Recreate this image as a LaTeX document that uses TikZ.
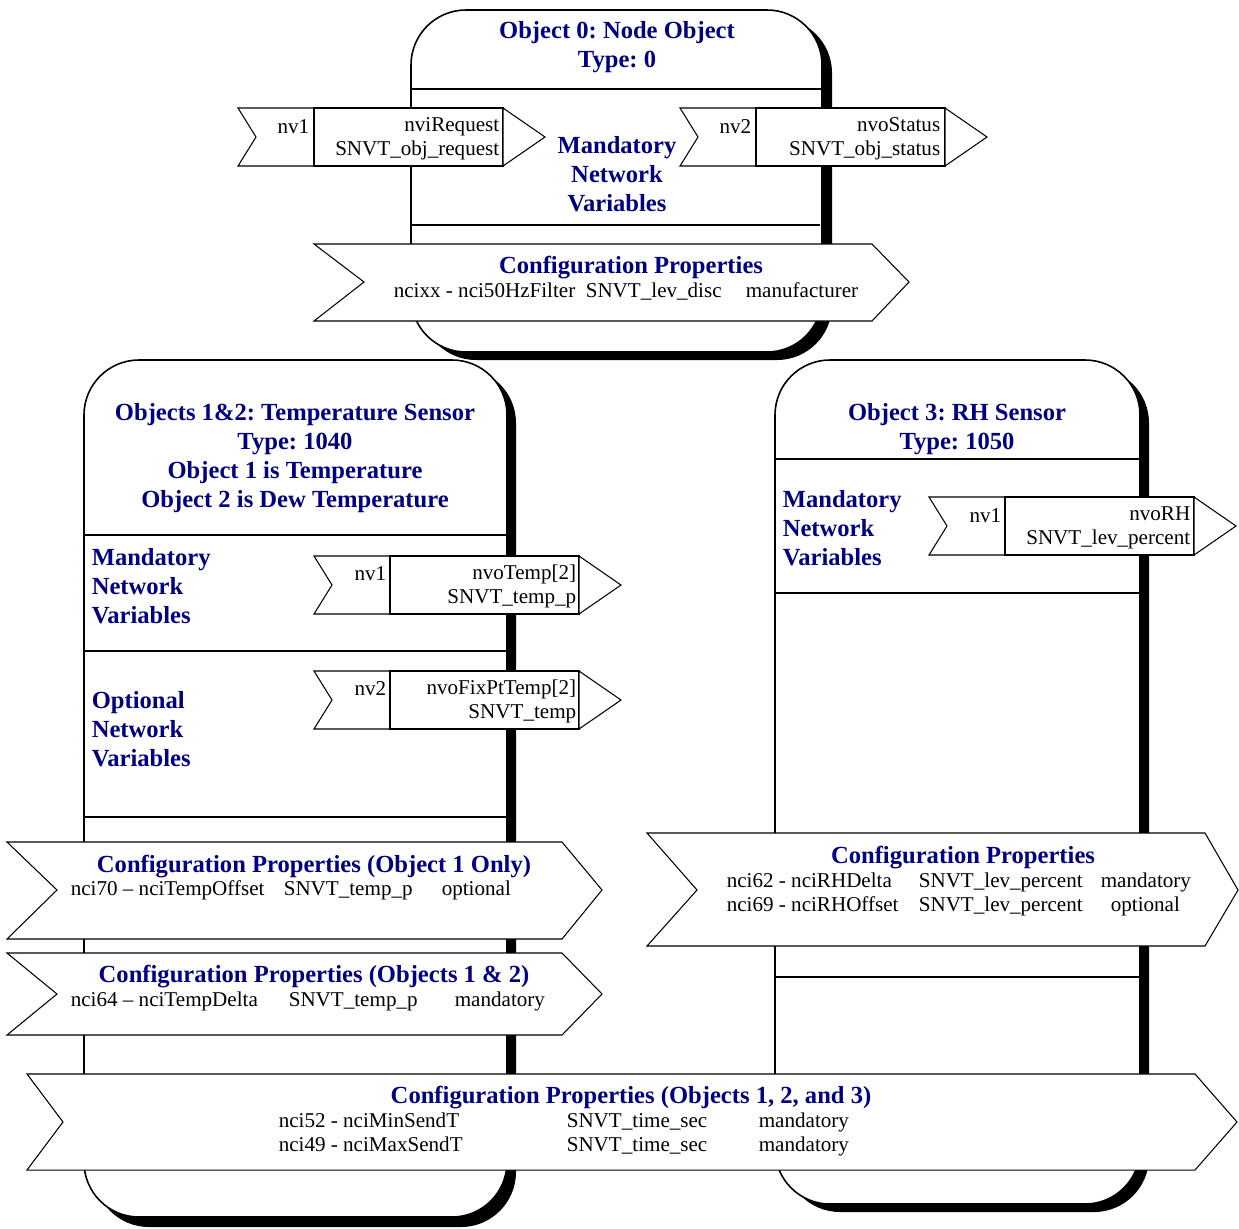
\documentclass[tikz,border=0pt]{standalone}
\usepackage{fontspec}
\setmainfont{Liberation Serif}
\usetikzlibrary{positioning}
\definecolor{navyblue}{RGB}{0,0,128}
\frenchspacing

\begin{document}
\begin{tikzpicture}
[x=0.02cm, y=-0.02cm, line width=0.9pt,
objshadow/.style={fill=black, rounded corners=1.1cm},
objbox/.style={draw, fill=white, rounded corners=1.1cm},
nvshape/.style={draw, fill=white, line width=0.6pt},
cpshape/.style={draw, fill=white, line width=0.6pt},
head/.style={font=\fontsize{14}{16.4}\selectfont\bfseries, text=navyblue, align=center, inner sep=0pt, yshift=-0.06cm},
headl/.style={head, align=left, anchor=west},
txt/.style={font=\fontsize{12}{13.7}\selectfont, inner sep=0pt, anchor=mid west, yshift=-0.05cm},
nvname/.style={font=\fontsize{12}{13.7}\selectfont, inner sep=0pt, align=right, anchor=east, yshift=-0.05cm}]

\useasboundingbox (0,0) rectangle (1239,1228);

% object boxes with shadow
\fill[objshadow] (421,18) rectangle (832,360);
\fill[objshadow] (94,368) rectangle (516,1227);
\fill[objshadow] (785,368) rectangle (1149,1212);
\draw[objbox] (411,10) rectangle (822,352);
\draw[objbox] (84,360) rectangle (507,1217);
\draw[objbox] (775,360) rectangle (1140,1204);

\draw (411,89) -- (822,89);
\draw (411,225) -- (820,225);
\draw (84,535) -- (507,535);
\draw (84,651) -- (507,651);
\draw (84,817) -- (507,817);
\draw (775,459) -- (1140,459);
\draw (775,593) -- (1140,593);
\draw (775,977) -- (1140,977);

\node[head] (head0) at (617,44) {Object 0: Node Object\\Type: 0};
\node[head] (mnv0) at (617,171) {Mandatory\\Network\\Variables};
\node[head] (head12) at (295,455) {Objects 1\&2: Temperature Sensor\\Type: 1040\\Object 1 is Temperature\\Object 2 is Dew Temperature};
\node[headl] (mnv12) at (91,583) {Mandatory\\Network\\Variables};
\node[headl] (onv12) at (91,726) {Optional\\Network\\Variables};
\node[head] (head3) at (957,426) {Object 3: RH Sensor\\Type: 1050};
\node[headl] (mnv3) at (782,525) {Mandatory\\Network\\Variables};

% network variables
\foreach \l/\t/\c in {238/108/a, 680/108/b, 314/556/c, 314/671/d, 929/497/e} {
  \draw[nvshape] (\l,\t) -- (\l+76,\t) -- (\l+76,\t+58) -- (\l,\t+58) -- (\l+18,\t+29) -- cycle;
  \draw[nvshape] (\l+76,\t) rectangle (\l+265,\t+58);
  \draw[nvshape] (\l+265,\t) -- (\l+307,\t+29) -- (\l+265,\t+58) -- cycle;
}
\node[nvname] (nvnum0a) at (310,124) {nv1};
\node[nvname] (nvvar0a) at (500,136) {nviRequest\\SNVT\_obj\_request};
\node[nvname] (nvnum0b) at (752,124) {nv2};
\node[nvname] (nvvar0b) at (941,136) {nvoStatus\\SNVT\_obj\_status};
\node[nvname] (nvnum12a) at (387,571) {nv1};
\node[nvname] (nvvar12a) at (577,584) {nvoTemp[2]\\SNVT\_temp\_p};
\node[nvname] (nvnum12b) at (387,686) {nv2};
\node[nvname] (nvvar12b) at (577,699) {nvoFixPtTemp[2]\\SNVT\_temp};
\node[nvname] (nvnum3a) at (1002,513) {nv1};
\node[nvname] (nvvar3a) at (1191,525) {nvoRH\\SNVT\_lev\_percent};

% configuration properties
\draw[cpshape] (314,244) -- (872,244) -- (909,282) -- (872,321) -- (314,321) -- (364,282) -- cycle;
\node[head] (cp0) at (631,265) {Configuration Properties};
\node[txt] (cp0a) at (393,291) {ncixx - nci50HzFilter};
\node[txt] (cp0b) at (585,291) {SNVT\_lev\_disc};
\node[txt] (cp0c) at (745,291) {manufacturer};

\draw[cpshape] (7,842) -- (562,842) -- (602,890) -- (562,939) -- (7,939) -- (57,890) -- cycle;
\node[head] (cp1) at (314,864) {Configuration Properties (Object 1 Only)};
\node[txt] (cp1a) at (70,889) {nci70 -- nciTempOffset};
\node[txt] (cp1b) at (283,889) {SNVT\_temp\_p};
\node[txt] (cp1c) at (441,889) {optional};

\draw[cpshape] (7,953) -- (562,953) -- (602,994) -- (562,1035) -- (7,1035) -- (57,994) -- cycle;
\node[head] (cp12) at (314,974) {Configuration Properties (Objects 1 \& 2)};
\node[txt] (cp12a) at (70,1000) {nci64 -- nciTempDelta};
\node[txt] (cp12b) at (288,1000) {SNVT\_temp\_p};
\node[txt] (cp12c) at (454,1000) {mandatory};

\draw[cpshape] (647,833) -- (1205,833) -- (1238,890) -- (1205,946) -- (647,946) -- (697,890) -- cycle;
\node[head] (cp3) at (963,855) {Configuration Properties};
\node[txt] (cp3a) at (726,881) {nci62 - nciRHDelta};
\node[txt] (cp3b) at (918,881) {SNVT\_lev\_percent};
\node[txt] (cp3c) at (1100,881) {mandatory};
\node[txt] (cp3d) at (726,905) {nci69 - nciRHOffset};
\node[txt] (cp3e) at (918,905) {SNVT\_lev\_percent};
\node[txt] (cp3f) at (1110,905) {optional};

\draw[cpshape] (27,1074) -- (1195,1074) -- (1237,1122) -- (1195,1170) -- (27,1170) -- (63,1122) -- cycle;
\node[head] (cp123) at (631,1095) {Configuration Properties (Objects 1, 2, and 3)};
\foreach \r/\y/\n in {1/1121/52 - nciMinSendT, 2/1145/49 - nciMaxSendT} {
  \node[txt] (cp123a\r) at (278,\y) {nci\n};
  \node[txt] (cp123b\r) at (566,\y) {SNVT\_time\_sec};
  \node[txt] (cp123c\r) at (758,\y) {mandatory};
}

\end{tikzpicture}
\end{document}
